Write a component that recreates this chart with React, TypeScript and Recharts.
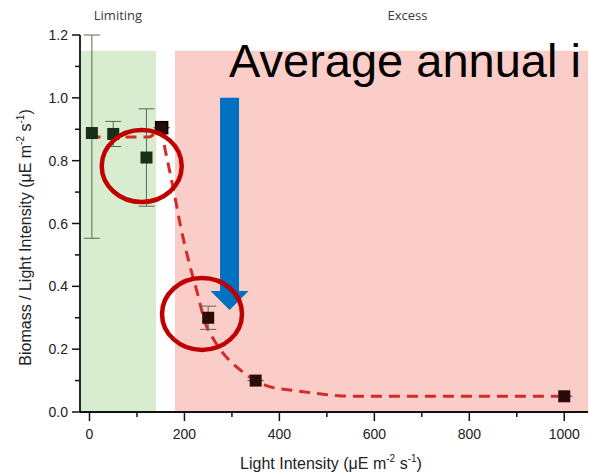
import React from "react";
import {
  ComposedChart,
  XAxis,
  YAxis,
  Scatter,
  ErrorBar,
  Line,
  ReferenceArea,
  ReferenceDot,
  ReferenceLine,
} from "recharts";

// measured points
const pointX = [5, 50, 120, 152, 250, 350, 1000];
const pointY = [0.888, 0.885, 0.81, 0.905, 0.3, 0.1, 0.05];
const errDown = [0.335, 0.04, 0.155, 0, 0.037, 0, 0];
const errUp = [0.312, 0.04, 0.155, 0, 0.037, 0, 0];

// dashed fit curve
const fitX = [0, 125, 150, 160, 178, 192, 209, 227, 244, 262, 280, 318, 351, 381, 429, 479, 531, 600, 1000];
const fitY = [0.875, 0.875, 0.9, 0.83, 0.7, 0.59, 0.48, 0.38, 0.283, 0.23, 0.19, 0.133, 0.099, 0.08, 0.069, 0.059, 0.051, 0.05, 0.05];

const xTicks = [0, 100, 200, 300, 400, 500, 600, 700, 800, 900, 1000];
const yTicks = [0, 0.1, 0.2, 0.3, 0.4, 0.5, 0.6, 0.7, 0.8, 0.9, 1.0, 1.1, 1.2];

const regionNames = ["Limiting", "Excess"];
const regionStart = [-20, 180];
const regionEnd = [140, 1050];
const regionTop = 1.15;

const title = "Average annual i";

const points = pointX.map((x, i) => ({ x, y: pointY[i], err: [errDown[i], errUp[i]] }));
const fit = fitX.map((x, i) => ({ x, y: fitY[i] }));

const FONT = '"Liberation Sans", Arial, sans-serif';

function YTick({ x, y, payload }: any) {
  const v = payload.value;
  const major = Math.round(v * 10) % 2 === 0;
  return (
    <g>
      <line x1={x} x2={x - (major ? 8 : 5)} y1={y} y2={y} stroke="#111" strokeWidth={1.5} />
      {major && (
        <text x={x - 12} y={y} dy={5} textAnchor="end" fontSize={14} fill="#222" fontFamily={FONT}>
          {v.toFixed(1)}
        </text>
      )}
    </g>
  );
}

function XTick({ x, y, payload }: any) {
  const v = payload.value;
  const major = v % 200 === 0;
  return (
    <g>
      <line x1={x} x2={x} y1={y} y2={y + (major ? 9 : 5)} stroke="#111" strokeWidth={1.5} />
      {major && (
        <text x={x} y={y + 27} textAnchor="middle" fontSize={14} fill="#222" fontFamily={FONT}>
          {v}
        </text>
      )}
    </g>
  );
}

function Marker({ cx, cy, payload }: any) {
  const inLimiting = payload.x < 140;
  return (
    <rect
      x={cx - 6}
      y={cy - 6}
      width={12}
      height={12}
      fill={inLimiting ? "#16301a" : "#2b0b08"}
      stroke={payload.x > 140 && payload.x < 180 ? "#000" : "none"}
      strokeWidth={1.5}
    />
  );
}

function RegionLabel({ viewBox, value, shift }: any) {
  return (
    <text
      x={viewBox.x + viewBox.width / 2 + shift}
      y={20}
      textAnchor="middle"
      fontSize={13}
      fill="#3a3a3a"
      fontFamily='"Open Sans", sans-serif'
    >
      {value}
    </text>
  );
}

function YLabel({ viewBox }: any) {
  const cx = viewBox.x + 25;
  const cy = viewBox.y + viewBox.height / 2 + 14;
  return (
    <text
      x={cx}
      y={cy + 6}
      transform={`rotate(-90, ${cx}, ${cy})`}
      textAnchor="middle"
      fontSize={16}
      fill="#222"
      fontFamily={FONT}
    >
      Biomass / Light Intensity (μE m
      <tspan fontSize={10} dy={-7}>-2</tspan>
      <tspan dy={7}> s</tspan>
      <tspan fontSize={10} dy={-7}>-1</tspan>
      <tspan dy={7}>)</tspan>
    </text>
  );
}

function XLabel() {
  return (
    <text x={331} y={469} textAnchor="middle" fontSize={16} fill="#222" fontFamily={FONT}>
      Light Intensity (μE m
      <tspan fontSize={10} dy={-7}>-2</tspan>
      <tspan dy={7}> s</tspan>
      <tspan fontSize={10} dy={-7}>-1</tspan>
      <tspan dy={7}>)</tspan>
    </text>
  );
}

function Ring({ cx, cy }: any) {
  return <ellipse cx={cx} cy={cy} rx={40} ry={36} fill="none" stroke="#c00000" strokeWidth={4.5} />;
}

function DownArrow({ x1, y1, y2 }: any) {
  const head = 19;
  const pts = [
    [x1 - 9.5, y1],
    [x1 + 9.5, y1],
    [x1 + 9.5, y2 - head],
    [x1 + 19, y2 - head],
    [x1, y2],
    [x1 - 19, y2 - head],
    [x1 - 9.5, y2 - head],
  ]
    .map((p) => p.join(","))
    .join(" ");
  return <polygon points={pts} fill="#0070c0" />;
}

export default function App() {
  return (
    <div style={{ position: "absolute", left: 0, top: 0, width: 590, height: 475, overflow: "hidden", background: "#fff" }}>
      <ComposedChart width={590} height={475} margin={{ top: 35, right: 2, bottom: 0, left: 0 }}>
        {regionNames.map((name, i) => (
          <ReferenceArea
            key={name}
            x1={regionStart[i]}
            x2={regionEnd[i]}
            y1={0}
            y2={regionTop}
            fill={i === 0 ? "#d8ecd0" : "#fbcdc8"}
            fillOpacity={1}
            stroke="none"
            ifOverflow="visible"
            label={(p: any) => <RegionLabel {...p} value={name} shift={i === 0 ? 0 : 26} />}
          />
        ))}
        <XAxis
          type="number"
          dataKey="x"
          domain={[-20, 1050]}
          ticks={xTicks}
          allowDataOverflow
          height={63}
          tickSize={0}
          tickMargin={0}
          tickLine={false}
          axisLine={{ stroke: "#111", strokeWidth: 1.8 }}
          tick={<XTick />}
          interval={0}
          label={<XLabel />}
        />
        <YAxis
          type="number"
          dataKey="y"
          domain={[0, 1.2]}
          ticks={yTicks}
          allowDataOverflow
          width={80}
          tickSize={0}
          tickMargin={0}
          tickLine={false}
          axisLine={{ stroke: "#111", strokeWidth: 1.8 }}
          tick={<YTick />}
          interval={0}
          label={(p: any) => <YLabel {...p} />}
        />
        <Line
          data={fit}
          dataKey="y"
          type="monotone"
          stroke="#d42a2a"
          strokeWidth={3}
          strokeDasharray="11 7"
          dot={false}
          activeDot={false}
          isAnimationActive={false}
        />
        <Scatter data={points} dataKey="y" shape={<Marker />} isAnimationActive={false}>
          <ErrorBar dataKey="err" direction="y" width={8} stroke="#5a6b55" strokeWidth={1} />
        </Scatter>
        <ReferenceDot x={110} y={0.783} shape={<Ring />} ifOverflow="visible" />
        <ReferenceDot x={237} y={0.312} shape={<Ring />} ifOverflow="visible" />
        <ReferenceLine
          segment={[
            { x: 295, y: 1.0 },
            { x: 295, y: 0.325 },
          ]}
          shape={(p: any) => <DownArrow {...p} />}
          ifOverflow="visible"
        />
      </ComposedChart>
      <div
        style={{
          position: "absolute",
          left: 229,
          top: 37,
          fontSize: 47,
          lineHeight: "47px",
          whiteSpace: "nowrap",
          fontFamily: FONT,
          color: "#000",
        }}
      >
        {title}
      </div>
    </div>
  );
}
